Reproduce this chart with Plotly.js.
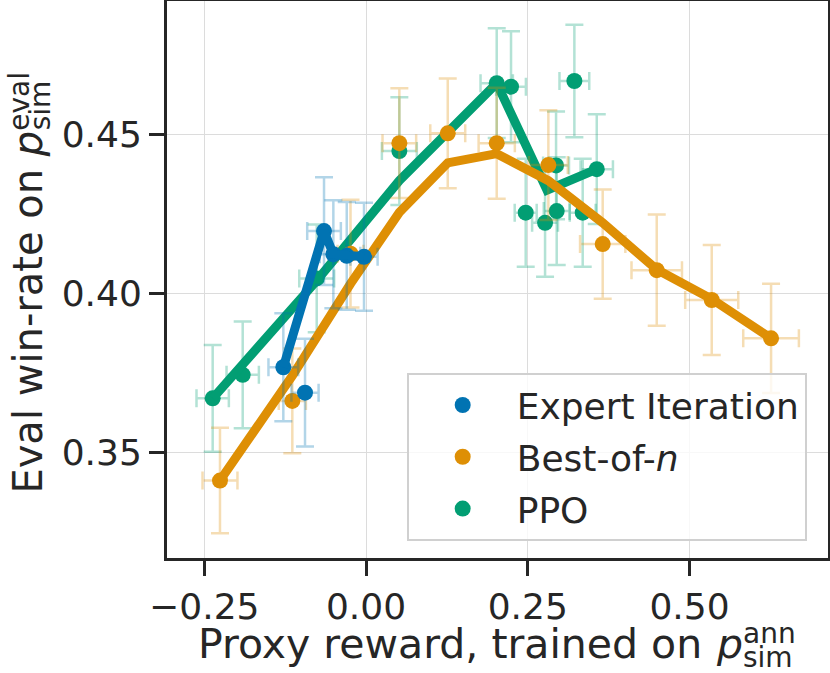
<!DOCTYPE html>
<html>
<head>
<meta charset="utf-8">
<script src="https://cdn.plot.ly/plotly-3.0.1.min.js"></script>
<style>
  html, body { margin: 0; padding: 0; background: #fff; }
  #graph { width: 830px; height: 673px; }
</style>
</head>
<body>
<div id="graph"></div>
<script>
// Expert Iteration points
var eiX = [-0.1278, -0.0943, -0.0649, -0.0505, -0.0298, -0.0031];
var eiY = [0.3767, 0.3687, 0.4196, 0.4123, 0.4118, 0.4115];
var eiXErr = [0.023, 0.021, 0.026, 0.021, 0.021, 0.021];
var eiYErr = [0.017, 0.017, 0.017, 0.017, 0.017, 0.017];

// Best-of-n points
var bonX = [-0.2257, -0.1139, -0.024, 0.0515, 0.1263, 0.202, 0.2818, 0.3658, 0.4493, 0.5343, 0.626];
var bonY = [0.341, 0.3661, 0.4125, 0.4473, 0.4504, 0.4473, 0.4404, 0.4155, 0.4073, 0.3979, 0.3858];
var bonXErr = [0.027, 0.021, 0.02, 0.026, 0.027, 0.028, 0.03, 0.035, 0.039, 0.041, 0.043];
var bonYErr = [0.0166, 0.0165, 0.017, 0.0173, 0.0173, 0.0175, 0.0173, 0.0172, 0.0175, 0.0173, 0.0172];

// PPO points
var ppoX = [-0.237, -0.1906, -0.0762, 0.0515, 0.202, 0.2241, 0.322, 0.3566, 0.2937, 0.2468, 0.2767, 0.2947, 0.3349];
var ppoY = [0.3669, 0.3743, 0.4047, 0.4448, 0.4662, 0.4651, 0.4669, 0.4391, 0.4403, 0.4254, 0.4222, 0.4259, 0.4254];
var ppoXErr = [0.025, 0.025, 0.027, 0.027, 0.025, 0.023, 0.023, 0.025, 0.02, 0.017, 0.02, 0.02, 0.02];
var ppoYErr = [0.0168, 0.0168, 0.017, 0.017, 0.0173, 0.0175, 0.0177, 0.0173, 0.017, 0.017, 0.017, 0.017, 0.017];

// fitted lines
var eiLineX = [-0.1278, -0.0649, -0.0505, -0.0298, -0.0031];
var eiLineY = [0.3767, 0.4196, 0.4123, 0.4118, 0.4115];
var bonLineX = [-0.2257, -0.1139, -0.024, 0.0515, 0.1263, 0.202, 0.2818, 0.3658, 0.4493, 0.5343, 0.626];
var bonLineY = [0.341, 0.374, 0.403, 0.4255, 0.4411, 0.444, 0.4355, 0.4222, 0.4075, 0.3982, 0.3858];
var ppoLineX = [-0.237, -0.0762, 0.0515, 0.1263, 0.202, 0.2797, 0.3566];
var ppoLineY = [0.3669, 0.404, 0.4355, 0.451, 0.4662, 0.4325, 0.4391];

var blue = '#0173b2', orange = '#de8f05', green = '#029e73';
var blueErr = 'rgba(1,115,178,0.3)', orangeErr = 'rgba(222,143,5,0.3)', greenErr = 'rgba(2,158,115,0.3)';
var ink = '#262626';
var font = 'DejaVu Sans, Liberation Sans, sans-serif';

function pointTrace(name, x, y, xe, ye, col, errCol, rank){
    return {
        type: 'scatter', mode: 'markers', name: name,
        x: x, y: y,
        marker: {color: col, size: 16},
        error_x: {type: 'data', array: xe, visible: true, color: errCol, thickness: 2.5, width: 9},
        error_y: {type: 'data', array: ye, visible: true, color: errCol, thickness: 2.5, width: 9},
        legendrank: rank, legendgroup: name,
        cliponaxis: false
    };
}

function lineTrace(x, y, col){
    return {
        type: 'scatter', mode: 'lines',
        x: x, y: y,
        line: {color: col, width: 9},
        showlegend: false, hoverinfo: 'skip'
    };
}

var charts = [
    pointTrace('PPO', ppoX, ppoY, ppoXErr, ppoYErr, green, greenErr, 3),
    lineTrace(ppoLineX, ppoLineY, green),
    pointTrace('Best-of-<i>n</i>', bonX, bonY, bonXErr, bonYErr, orange, orangeErr, 2),
    lineTrace(bonLineX, bonLineY, orange),
    pointTrace('Expert Iteration', eiX, eiY, eiXErr, eiYErr, blue, blueErr, 1),
    lineTrace(eiLineX, eiLineY, blue)
];

var axisCommon = {
    showline: true, mirror: true, linecolor: ink, linewidth: 3,
    ticks: 'outside', ticklen: 15, tickwidth: 3, tickcolor: ink,
    showgrid: true, gridcolor: '#dcdcdc', gridwidth: 1,
    zeroline: false,
    tickfont: {family: font, size: 36, color: ink},
    tickformat: '.2f'
};

var xaxis = Object.assign({}, axisCommon, {range: [-0.3076, 0.714], tick0: 0, dtick: 0.25});
var yaxis = Object.assign({}, axisCommon, {range: [0.3166, 0.4921], tick0: 0, dtick: 0.05});

var annotations = [
    // x title
    {text: 'Proxy reward, trained on', xref: 'paper', yref: 'paper', x: 0.0439, y: -0.155,
     xanchor: 'left', yanchor: 'middle', showarrow: false, font: {family: font, size: 41, color: ink}},
    {text: '<i>p</i>', xref: 'paper', yref: 'paper', x: 0.828, y: -0.155,
     xanchor: 'left', yanchor: 'middle', showarrow: false, font: {family: font, size: 41, color: ink}},
    {text: 'ann', xref: 'paper', yref: 'paper', x: 0.8684, y: -0.1347,
     xanchor: 'left', yanchor: 'middle', showarrow: false, font: {family: font, size: 28, color: ink}},
    {text: 'sim', xref: 'paper', yref: 'paper', x: 0.8684, y: -0.179,
     xanchor: 'left', yanchor: 'middle', showarrow: false, font: {family: font, size: 28, color: ink}},
    // y title
    {text: 'Eval win-rate on <i>p</i>', xref: 'paper', yref: 'paper', x: -0.2103, y: 0.4424,
     xanchor: 'center', yanchor: 'middle', textangle: -90, showarrow: false, font: {family: font, size: 40, color: ink}},
    {text: 'eval', xref: 'paper', yref: 'paper', x: -0.2224, y: 0.821,
     xanchor: 'center', yanchor: 'middle', textangle: -90, showarrow: false, font: {family: font, size: 28, color: ink}},
    {text: 'sim', xref: 'paper', yref: 'paper', x: -0.192, y: 0.813,
     xanchor: 'center', yanchor: 'middle', textangle: -90, showarrow: false, font: {family: font, size: 28, color: ink}}
];

var layout = {
    width: 830, height: 673,
    margin: {l: 167, r: 2, t: 1, b: 115},
    paper_bgcolor: '#ffffff', plot_bgcolor: '#ffffff',
    font: {family: font, color: ink},
    xaxis: xaxis, yaxis: yaxis,
    showlegend: true,
    legend: {
        x: 0.3626, y: 0.332, xanchor: 'left', yanchor: 'top',
        bgcolor: 'rgba(255,255,255,0.8)', bordercolor: '#d0d0d0', borderwidth: 2,
        font: {family: font, size: 36, color: ink},
        itemwidth: 98, tracegroupgap: 2
    },
    annotations: annotations
};

Plotly.newPlot('graph', charts, layout, {displayModeBar: false, staticPlot: true});
</script>
</body>
</html>
